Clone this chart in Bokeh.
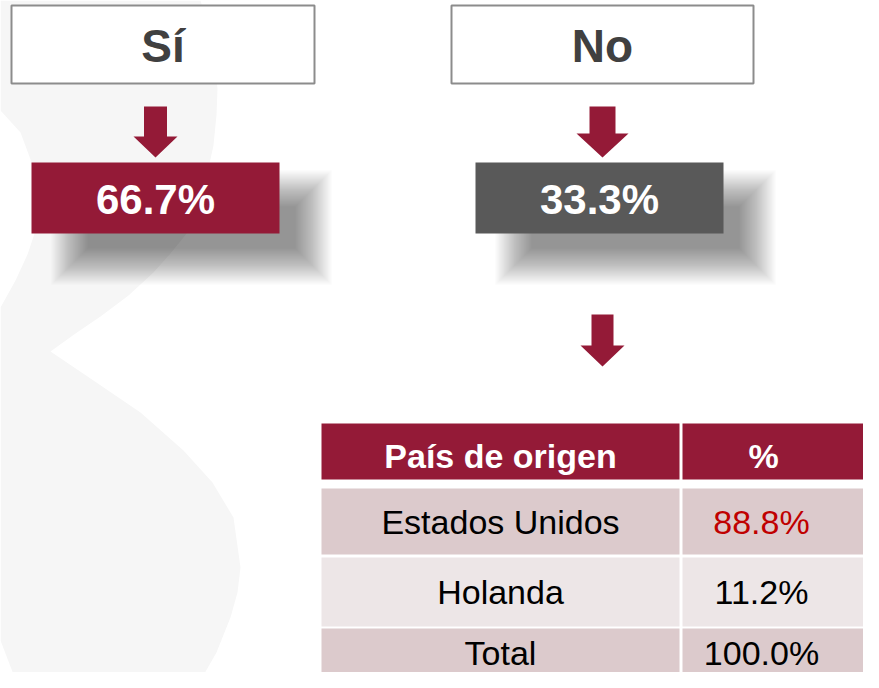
from bokeh.plotting import figure
from bokeh.models import Range1d
from bokeh.embed import file_html
from bokeh.resources import INLINE
from bokeh.core.properties import value

# ---------------- data ----------------
respuestas = ["Sí", "No"]
porcentajes = [66.7, 33.3]
tabla_encabezado = ["País de origen", "%"]
paises = ["Estados Unidos", "Holanda", "Total"]
paises_pct = [88.8, 11.2, 100.0]

# ---------------- colours / fonts ----------------
MAROON = "#941A37"
DGRAY = "#595959"
FONT = value("Liberation Sans")

W, H = 863, 672
p = figure(width=W, height=H, output_backend="svg", toolbar_location=None,
           x_range=Range1d(0, W), y_range=Range1d(H, 0),
           min_border=0, outline_line_color=None, background_fill_color="white",
           border_fill_color="white")
p.axis.visible = False
p.grid.visible = False

# ---------------- decorative background shape ----------------
bx = [0, 200, 212, 217, 216, 213, 203, 187, 170, 153, 128, 100, 75, 50,
      90, 140, 183, 212, 233, 240, 237, 230, 216, 200, 188, 23, 0,
      0, 15, 27, 35, 37, 33, 20, 0]
by = [0, 0, 40, 88, 115, 145, 190, 232, 253, 272, 295, 316, 333, 351,
      378, 412, 450, 482, 517, 567, 592, 617, 652, 680, 700, 700, 640,
      307, 280, 254, 230, 206, 167, 132, 110]
p.patch(bx, by, fill_color="#F6F6F6", line_color=None)

# ---------------- layout ----------------
title_boxes = [(11, 314), (451, 753)]
title_top, title_bot = 5, 83
val_boxes = [(31, 279), (475, 723)]
val_top, val_bot = 162, 233
val_colors = [MAROON, DGRAY]

# soft shadows under the value boxes
for (l, r) in val_boxes:
    for k in range(30):
        d = k * 1.25
        p.quad(left=l + 56 - d, right=r + 16 + d,
               top=206 - d, bottom=248 + d,
               fill_color="black", fill_alpha=0.015, line_color=None)

# title boxes
p.quad(left=[b[0] for b in title_boxes], right=[b[1] for b in title_boxes],
       top=[title_top] * 2, bottom=[title_bot] * 2,
       fill_color="white", line_color="#8C8C8C", line_width=2)

# arrows
def arrow(cx, sh, hh, y0, y1, y2):
    return ([cx - sh, cx + sh, cx + sh, cx + hh, cx, cx - hh, cx - sh],
            [y0, y0, y1, y1, y2, y1, y1])

arrows = [arrow(155, 11.5, 22, 106, 136, 157),
          arrow(602, 13, 26, 106, 133, 157),
          arrow(602, 11, 22, 314, 345, 366)]
p.patches([a[0] for a in arrows], [a[1] for a in arrows],
          fill_color=MAROON, line_color=None)

# value boxes
p.quad(left=[b[0] for b in val_boxes], right=[b[1] for b in val_boxes],
       top=[val_top] * 2, bottom=[val_bot] * 2,
       fill_color=val_colors, line_color=None)

# ---------------- table cells ----------------
c1l, c1r, c2l, c2r = 321, 679, 682, 900
hdr_top, hdr_bot = 423, 479
row_tops = [488, 557, 628]
row_bots = [554, 626, 700]
row_fill = ["#DCCACC", "#EDE6E7", "#DCCACC"]

p.quad(left=[c1l, c2l], right=[c1r, c2r], top=[hdr_top] * 2, bottom=[hdr_bot] * 2,
       fill_color=MAROON, line_color=None)
p.quad(left=[c1l] * 3 + [c2l] * 3, right=[c1r] * 3 + [c2r] * 3,
       top=row_tops * 2, bottom=row_bots * 2,
       fill_color=row_fill * 2, line_color=None)

# ---------------- texts ----------------
p.text(x=[(b[0] + b[1]) / 2 for b in title_boxes], y=[45, 45], text=respuestas,
       text_font=FONT, text_font_style="bold", text_font_size="46px",
       text_color="#404040", text_align="center", text_baseline="middle")
p.text(x=[(b[0] + b[1]) / 2 for b in val_boxes], y=[199, 199],
       text=[f"{v:.1f}%" for v in porcentajes],
       text_font=FONT, text_font_style="bold", text_font_size="42px",
       text_color="white", text_align="center", text_baseline="middle")
p.text(x=[500, 763], y=[455, 455], text=tabla_encabezado,
       text_font=FONT, text_font_style="bold", text_font_size="34px",
       text_color="white", text_align="center", text_baseline="middle")

mids = [521, 591, 652]
p.text(x=[500] * 3, y=mids, text=paises,
       text_font=FONT, text_font_size="34px", text_color="black",
       text_align="center", text_baseline="middle")
pct_colors = ["#C00000", "black", "black"]
p.text(x=[761] * 3, y=mids, text=[f"{v:.1f}%" for v in paises_pct],
       text_font=FONT, text_font_size="34px", text_color=pct_colors,
       text_align="center", text_baseline="middle")

open("out.html", "w").write(file_html(p, INLINE))
